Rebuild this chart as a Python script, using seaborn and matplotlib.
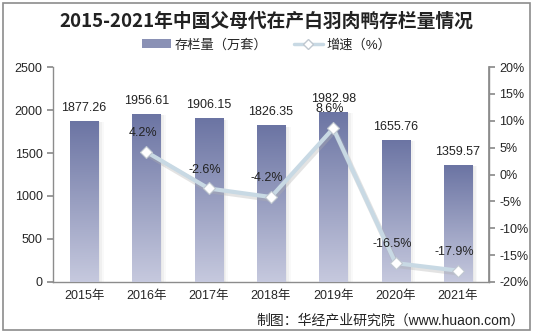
import numpy as np
import pandas as pd
import matplotlib
matplotlib.use("Agg")
import matplotlib.pyplot as plt
from matplotlib.patches import Rectangle, Patch
from matplotlib.lines import Line2D
import seaborn as sns

years = ["2015年", "2016年", "2017年", "2018年", "2019年", "2020年", "2021年"]
stock = [1877.26, 1956.61, 1906.15, 1826.35, 1982.98, 1655.76, 1359.57]
growth_years = ["2016年", "2017年", "2018年", "2019年", "2020年", "2021年"]
growth = [4.2, -2.6, -4.2, 8.6, -16.5, -17.9]

sns.set_theme(style="white")
plt.rcParams["font.family"] = ["Liberation Sans", "Noto Sans CJK SC", "DejaVu Sans"]

fig = plt.figure(figsize=(5.33, 3.34), dpi=100)
fig.patches.append(Rectangle((0.006, 0.012), 0.988, 0.978, transform=fig.transFigure,
                             fill=False, edgecolor="#8c8c8c", linewidth=1.2))
ax = fig.add_axes([0.0994, 0.156, 0.818, 0.643])

df = pd.DataFrame({"year": years, "stock": stock})
sns.barplot(data=df, x="year", y="stock", ax=ax, color="#7b83ad", width=0.45,
            saturation=1, zorder=2)

# gradient fill + soft shadow on each bar
grad = np.linspace(0, 1, 256).reshape(-1, 1)
cmap = matplotlib.colors.LinearSegmentedColormap.from_list("bar", ["#c6c9de", "#6b74a3"])
for p in ax.patches:
    x0, w, h = p.get_x(), p.get_width(), p.get_height()
    for k, a in enumerate([0.14, 0.09, 0.05]):
        ax.add_patch(Rectangle((x0 + w, 0), 0.03 * (k + 1), h * 0.99, color="#9a9a9a",
                               alpha=a, linewidth=0, zorder=1))
    im = ax.imshow(grad, extent=[x0, x0 + w, 0, h], origin="lower", aspect="auto",
                   cmap=cmap, zorder=3)
    im.set_clip_path(p)
    ax.text(x0 + w / 2, h + 80, f"{h:.2f}", ha="center", va="bottom", fontsize=9,
            color="#222222", zorder=6)

ax.set_xlim(-0.5, 6.5)
ax.set_ylim(0, 2500)
ax.set_yticks(range(0, 2501, 500))
ax.set_xlabel("")
ax.set_ylabel("")
ax.set_xticks(np.arange(-0.5, 7, 1), minor=False)
ax.set_xticklabels([])
ax.set_xticks(range(7), minor=True)
ax.set_xticklabels(years, minor=True)
ax.tick_params(axis="x", which="minor", length=0, labelsize=9, pad=6)
ax.tick_params(axis="x", which="major", length=4, color="#8c8c8c", direction="out")
ax.tick_params(axis="y", length=4, color="#8c8c8c", direction="out", labelsize=9,
               left=True)
ax.spines["top"].set_visible(False)
for s in ["left", "bottom", "right"]:
    ax.spines[s].set_color("#8c8c8c")
    ax.spines[s].set_linewidth(1)

ax2 = ax.twinx()
gx = [years.index(y) for y in growth_years]
gdf = pd.DataFrame({"x": gx, "g": growth})
# soft shadow under the line
ax2.plot(np.array(gx) + 0.02, np.array(growth) - 0.4, color="#b0b0b0", alpha=0.35,
         linewidth=4, zorder=3)
sns.lineplot(data=gdf, x="x", y="g", ax=ax2, color="#c8d9e4", linewidth=3,
             marker="D", markersize=6, markerfacecolor="white",
             markeredgecolor="#c0c8d0", markeredgewidth=0.8, zorder=4)
for x, g in zip(gx, growth):
    ax2.text(x - 0.06, g + 2.4, f"{g:.1f}%", ha="center", va="bottom", fontsize=9,
             color="#222222", zorder=6)
ax2.set_ylim(-20, 20)
ax2.set_yticks(range(-20, 21, 5))
ax2.set_yticklabels([f"{v}%" for v in range(-20, 21, 5)])
ax2.set_xlim(-0.5, 6.5)
ax2.set_xlabel("")
ax2.set_ylabel("")
ax2.tick_params(axis="y", length=4, color="#8c8c8c", direction="out", labelsize=9,
                right=True)
for s in ["top", "left", "bottom"]:
    ax2.spines[s].set_visible(False)
ax2.spines["right"].set_color("#8c8c8c")
ax2.grid(False)
ax.grid(False)

fig.text(0.5, 0.935, "2015-2021年中国父母代在产白羽肉鸭存栏量情况", ha="center",
         va="center", fontsize=13.5, fontweight="bold", color="#222222",
         family=["Noto Sans CJK SC", "DejaVu Sans"])

handles = [Patch(facecolor="#8a91b5", edgecolor="none"),
           Line2D([0], [0], color="#c8d9e4", linewidth=2.5, marker="D", markersize=5,
                  markerfacecolor="white", markeredgecolor="#c0c8d0")]
fig.legend(handles, ["存栏量（万套）", "增速（%）"], loc="center", ncol=2,
           bbox_to_anchor=(0.5, 0.865), frameon=False, fontsize=9.5, handlelength=2.2,
           columnspacing=2.0, handletextpad=0.3)

fig.text(0.985, 0.042, "制图：华经产业研究院（www.huaon.com）", ha="right", va="center",
         fontsize=10, color="#222222")

fig.savefig("out.png", dpi=100)
